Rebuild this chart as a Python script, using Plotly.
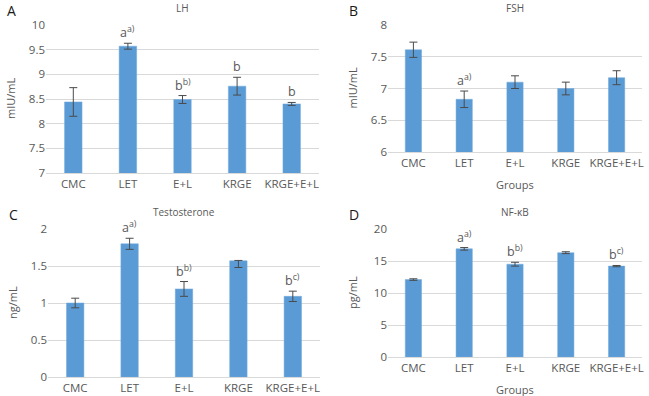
import plotly.graph_objects as go

groups = ["CMC", "LET", "E+L", "KRGE", "KRGE+E+L"]

lh_vals = [8.44, 9.57, 8.49, 8.76, 8.40]
lh_err = [0.29, 0.06, 0.08, 0.18, 0.03]
lh_labels = ["", "a<sup>a)</sup>", "b<sup>b)</sup>", "b", "b"]

fsh_vals = [7.61, 6.83, 7.10, 7.00, 7.17]
fsh_err = [0.12, 0.13, 0.10, 0.10, 0.11]
fsh_labels = ["", "a<sup>a)</sup>", "", "", ""]

tes_vals = [1.00, 1.80, 1.19, 1.57, 1.09]
tes_err_plus = [0.065, 0.075, 0.10, 0.005, 0.07]
tes_err_minus = [0.065, 0.075, 0.10, 0.09, 0.07]
tes_labels = ["", "a<sup>a)</sup>", "b<sup>b)</sup>", "", "b<sup>c)</sup>"]

nf_vals = [12.1, 16.9, 14.5, 16.3, 14.2]
nf_err = [0.12, 0.2, 0.3, 0.15, 0.1]
nf_labels = ["", "a<sup>a)</sup>", "b<sup>b)</sup>", "", "b<sup>c)</sup>"]

W, H = 649, 396
BAR = "#5B9BD5"
TXT = "#595959"
GRID = "#D9D9D9"
FONT = "Open Sans"

def px(x):
    return x / W

def py(y):
    return 1 - y / H

panels = [
    dict(name="LH", letter="A", vals=lh_vals, ep=lh_err, em=lh_err, labels=lh_labels,
         x0=46, x1=319, ytop=25, ybot=173, rng=[7, 10], dtick=0.5, unit="mIU/mL", groups_title=False),
    dict(name="FSH", letter="B", vals=fsh_vals, ep=fsh_err, em=fsh_err, labels=fsh_labels,
         x0=388, x1=642, ytop=25, ybot=152, rng=[6, 8], dtick=0.5, unit="mIU/mL", groups_title=True),
    dict(name="Testosterone", letter="C", vals=tes_vals, ep=tes_err_plus, em=tes_err_minus, labels=tes_labels,
         x0=48, x1=320, ytop=229, ybot=377, rng=[0, 2], dtick=0.5, unit="ng/mL", groups_title=False),
    dict(name="NF-κB", letter="D", vals=nf_vals, ep=nf_err, em=nf_err, labels=nf_labels,
         x0=388, x1=642, ytop=229, ybot=357, rng=[0, 20], dtick=5, unit="pg/mL", groups_title=True),
]

fig = go.Figure()
layout = dict(
    width=W, height=H, margin=dict(l=0, r=0, t=0, b=0, pad=0),
    paper_bgcolor="white", plot_bgcolor="white", showlegend=False,
    font=dict(family=FONT, color=TXT, size=11),
)
annotations = []

for i, p in enumerate(panels):
    n = i + 1
    xa = "x" if n == 1 else f"x{n}"
    ya = "y" if n == 1 else f"y{n}"
    xkey = "xaxis" if n == 1 else f"xaxis{n}"
    ykey = "yaxis" if n == 1 else f"yaxis{n}"
    fig.add_trace(go.Bar(
        x=groups, y=p["vals"], xaxis=xa, yaxis=ya, width=0.32,
        marker=dict(color=BAR, line=dict(color="#6FA8DC", width=0.5)),
        error_y=dict(type="data", symmetric=False, array=p["ep"], arrayminus=p["em"],
                     color="#4A4A4A", thickness=1, width=4),
        hoverinfo="skip",
    ))
    layout[xkey] = dict(
        domain=[px(p["x0"]), px(p["x1"])], anchor=ya, type="category",
        showgrid=False, showline=True, linecolor=GRID, linewidth=1,
        ticks="", tickfont=dict(size=11.5, color=TXT), fixedrange=True, automargin=False,
    )
    layout[ykey] = dict(
        domain=[py(p["ybot"]), py(p["ytop"])], anchor=xa, range=p["rng"], dtick=p["dtick"],
        showgrid=True, gridcolor=GRID, gridwidth=1, zeroline=False, showline=False,
        ticks="", tickfont=dict(size=11.5, color=TXT), fixedrange=True, automargin=False,
    )
    for g, v, e, lab in zip(groups, p["vals"], p["ep"], p["labels"]):
        if lab:
            annotations.append(dict(
                x=g, y=v + e, xref=xa, yref=ya, text=lab, showarrow=False,
                yanchor="bottom", yshift=0, font=dict(size=12.5, color=TXT),
            ))
    xc = (p["x0"] + p["x1"]) / 2
    annotations.append(dict(
        x=px(xc), y=py(p["ytop"] - 17), xref="paper", yref="paper", text=p["name"],
        showarrow=False, xanchor="center", yanchor="middle", font=dict(size=10, color=TXT),
    ))
    annotations.append(dict(
        x=px(p["x0"] - 41), y=py(p["ytop"] - 15), xref="paper", yref="paper", text=p["letter"],
        showarrow=False, xanchor="left", yanchor="middle", font=dict(size=14, color="#1A1A1A"),
    ))
    annotations.append(dict(
        x=px(p["x0"] - 36), y=py((p["ytop"] + p["ybot"]) / 2), xref="paper", yref="paper",
        text=p["unit"], showarrow=False, textangle=-90, xanchor="center", yanchor="middle",
        font=dict(size=11, color=TXT),
    ))
    if p["groups_title"]:
        annotations.append(dict(
            x=px(xc), y=py(p["ybot"] + 32), xref="paper", yref="paper", text="Groups",
            showarrow=False, xanchor="center", yanchor="middle", font=dict(size=11, color=TXT),
        ))

layout["annotations"] = annotations
fig.update_layout(**layout)
fig.write_html(
    "out.html",
    config={"displayModeBar": False, "staticPlot": True},
    post_script="document.body.style.margin='0px';document.body.style.overflow='hidden';",
)
